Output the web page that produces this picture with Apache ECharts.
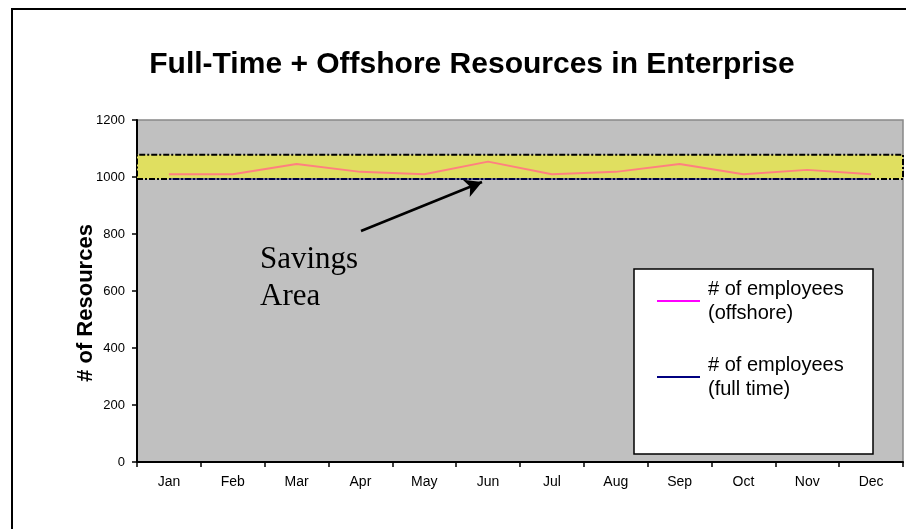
<!DOCTYPE html>
<html>
<head>
<meta charset="utf-8">
<script src="https://cdn.jsdelivr.net/npm/echarts@6/dist/echarts.min.js"></script>
<style>
  html, body { margin: 0; padding: 0; background: #fff; }
  #chart { width: 906px; height: 529px; }
</style>
</head>
<body>
<div id="chart"></div>
<script>
// months on the x axis
const months = ['Jan', 'Feb', 'Mar', 'Apr', 'May', 'Jun', 'Jul', 'Aug', 'Sep', 'Oct', 'Nov', 'Dec'];
// series values
const offshore = [1010, 1010, 1046, 1018, 1010, 1054, 1010, 1018, 1046, 1010, 1025, 1010];
const fullTime = [993, 993, 993, 993, 993, 993, 993, 993, 993, 993, 993, 993];
// savings band limits
const bandLow = 993;
const bandHigh = 1078;
// legend names
const names = ['# of employees\n(offshore)', '# of employees\n(full time)'];

const chart = echarts.init(document.getElementById('chart'));

const option = {
  animation: false,
  title: {
    text: 'Full-Time + Offshore Resources in Enterprise',
    left: 467, top: 45, textAlign: 'center',
    textStyle: { fontFamily: 'Liberation Sans, Arial', fontSize: 30, fontWeight: 'bold', color: '#000' }
  },
  grid: {
    left: 137, top: 120, right: 3, bottom: 67,
    show: true, backgroundColor: '#c0c0c0', borderColor: '#888', borderWidth: 1.5
  },
  legend: {
    orient: 'vertical',
    left: 657, top: 265,
    padding: 0,
    itemGap: 4,
    itemWidth: 43, itemHeight: 2,
    selectedMode: false,
    textStyle: {
      fontFamily: 'Liberation Sans, Arial', fontSize: 20, lineHeight: 24, color: '#000',
      padding: [24, 0, 0, 3]
    },
    data: [
      { name: names[0], icon: 'rect', itemStyle: { color: '#ff00ff' } },
      { name: names[1], icon: 'rect', itemStyle: { color: '#000080' } }
    ]
  },
  xAxis: {
    type: 'category',
    data: months,
    boundaryGap: true,
    axisLine: { lineStyle: { color: '#000', width: 2 } },
    axisTick: { show: true, length: 5, lineStyle: { color: '#000', width: 1.5 } },
    axisLabel: { interval: 0, margin: 13, color: '#000', fontSize: 14, fontFamily: 'Liberation Sans, Arial' }
  },
  yAxis: {
    type: 'value',
    min: 0, max: 1200, interval: 200,
    name: '# of Resources',
    nameLocation: 'middle',
    nameGap: 40,
    nameMoveOverlap: false,
    nameTextStyle: {
      fontFamily: 'Liberation Sans, Arial', fontSize: 22, fontWeight: 'bold', color: '#000',
      padding: [0, 24, 0, 0]
    },
    splitLine: { show: false },
    axisLine: { show: true, lineStyle: { color: '#000', width: 2 } },
    axisTick: { show: true, length: 5, lineStyle: { color: '#000', width: 1.5 } },
    axisLabel: {
      margin: 12, color: '#000', fontSize: 13, fontFamily: 'Liberation Sans, Arial',
      formatter: function (v) { return String(v); }
    }
  },
  series: [
    {
      name: names[1],
      type: 'line',
      data: fullTime,
      symbol: 'none',
      lineStyle: { color: '#000080', width: 1 },
      itemStyle: { color: '#000080' },
      z: 2
    },
    {
      name: names[0],
      type: 'line',
      data: offshore,
      symbol: 'none',
      lineStyle: { color: '#ff8080', width: 2 },
      itemStyle: { color: '#ff8080' },
      z: 3,
      markArea: {
        silent: true,
        itemStyle: {
          color: '#e0df60',
          borderColor: '#000',
          borderWidth: 2,
          borderType: [6, 2, 2, 2]
        },
        data: [[{ yAxis: bandLow }, { yAxis: bandHigh }]]
      },
      markLine: {
        silent: true,
        symbol: ['none', 'arrow'],
        symbolSize: [14, 17],
        label: { show: false },
        lineStyle: { color: '#000', width: 2.5, type: 'solid' },
        data: [[{ x: 361, y: 231 }, { x: 482, y: 182 }]]
      }
    }
  ],
  graphic: [
    {
      type: 'rect', z: -10,
      shape: { x: 12, y: 9, width: 1000, height: 1000 },
      style: { fill: 'none', stroke: '#000', lineWidth: 2 }
    },
    {
      type: 'rect', z: 3,
      shape: { x: 634, y: 269, width: 239, height: 185 },
      style: { fill: '#fff', stroke: '#000', lineWidth: 1.5 }
    },
    {
      type: 'text', z: 5, x: 260, y: 260,
      style: { text: 'Savings', font: '31px "Liberation Serif", "Times New Roman", serif', fill: '#000', verticalAlign: 'middle' }
    },
    {
      type: 'text', z: 5, x: 260, y: 297,
      style: { text: 'Area', font: '31px "Liberation Serif", "Times New Roman", serif', fill: '#000', verticalAlign: 'middle' }
    }
  ]
};

chart.setOption(option);
</script>
</body>
</html>
